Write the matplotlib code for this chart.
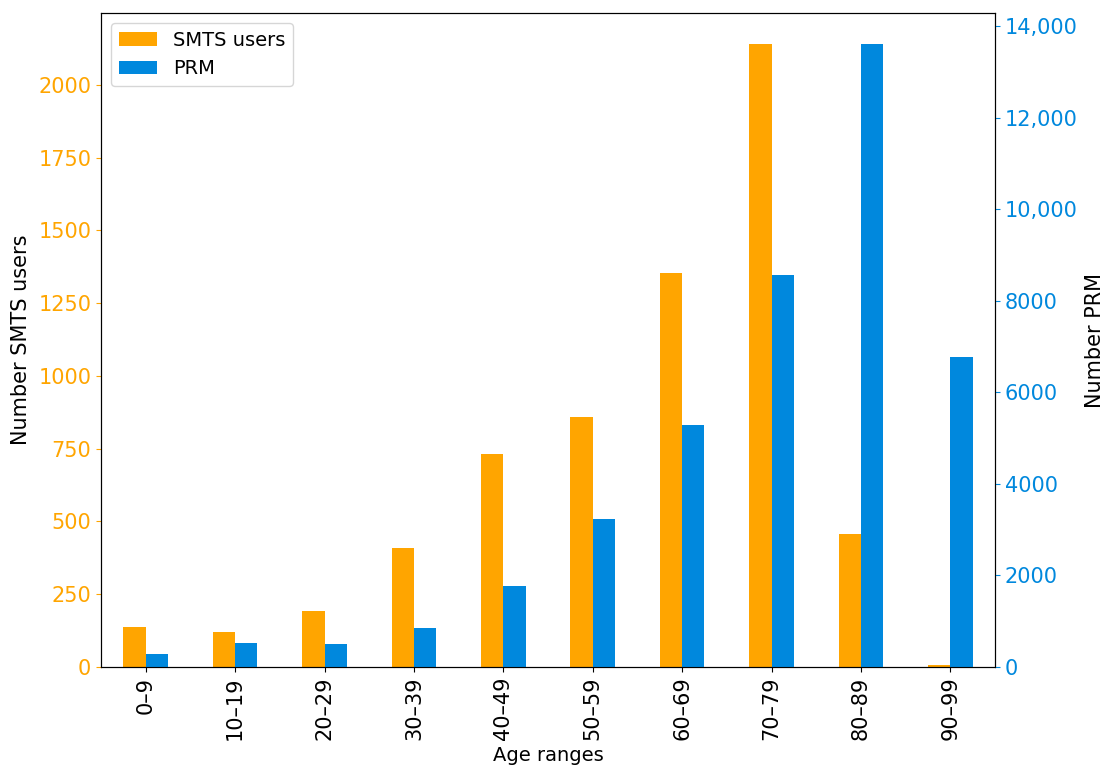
import numpy as np
import matplotlib
matplotlib.use("Agg")
import matplotlib.pyplot as plt
from matplotlib.ticker import FuncFormatter, MultipleLocator

age_ranges = ["0–9", "10–19", "20–29", "30–39", "40–49",
              "50–59", "60–69", "70–79", "80–89", "90–99"]
smts_users = [138, 120, 193, 409, 733, 860, 1355, 2142, 458, 7]
prm = [290, 531, 509, 858, 1775, 3238, 5290, 8566, 13610, 6775]

orange = "#FFA500"
blue = "#0088DD"

fig = plt.figure(figsize=(11.05, 7.67), dpi=100)
ax = fig.add_axes([101/1105, 1-667/767, (995-101)/1105, (667-13)/767])
ax2 = ax.twinx()

x = np.arange(len(age_ranges))
w = 0.25
b1 = ax.bar(x - w/2, smts_users, w, color=orange, label="SMTS users")
b2 = ax2.bar(x + w/2, prm, w, color=blue, label="PRM")
ax.set_xlim(-0.5, len(age_ranges) - 0.5)
ax.set_ylim(0, max(smts_users) * 1.049)
ax2.set_ylim(0, max(prm) * 1.05)

ax.set_xticks(x)
ax.set_xticklabels(age_ranges, rotation=90, fontsize=15)
ax.yaxis.set_major_locator(MultipleLocator(250))
ax2.yaxis.set_major_locator(MultipleLocator(2000))
ax2.yaxis.set_major_formatter(FuncFormatter(
    lambda v, p: f"{int(v):,}" if v >= 10000 else f"{int(v)}"))

ax.tick_params(axis="y", colors=orange, labelsize=15)
ax2.tick_params(axis="y", colors=blue, labelsize=15)
ax.tick_params(axis="x", labelsize=15)

ax.set_xlabel("Age ranges", fontsize=14)
ax.set_ylabel("Number SMTS users", fontsize=15, labelpad=5)
ax2.set_ylabel("Number PRM", fontsize=15, labelpad=5)

ax.legend([b1, b2], ["SMTS users", "PRM"], loc="upper left", fontsize=14)

fig.savefig("out.png", dpi=100)
